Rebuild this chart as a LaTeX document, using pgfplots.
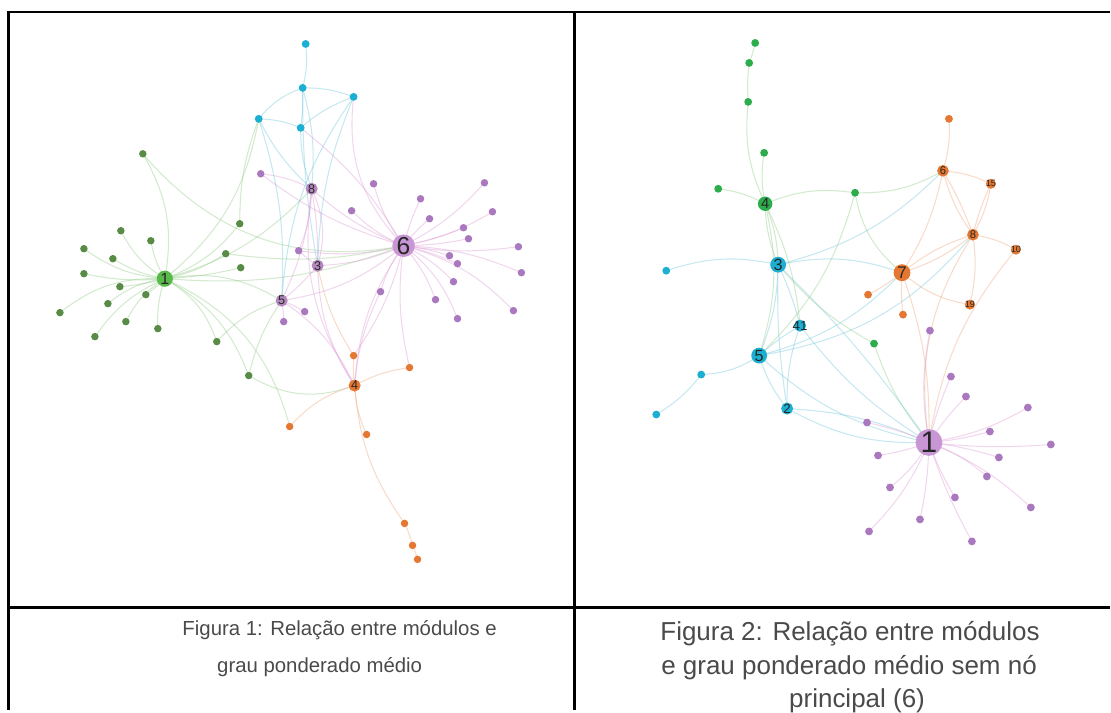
\documentclass[border=0pt]{standalone}
\usepackage{pgfplots}
\pgfplotsset{compat=1.18}
\usepackage{fontspec}
\setmainfont{Liberation Sans}
\definecolor{capgray}{RGB}{74,74,74}
\definecolor{cyN}{RGB}{28,175,210}
\definecolor{grS}{RGB}{88,140,70}
\definecolor{grH}{RGB}{90,185,75}
\definecolor{grT}{RGB}{45,172,75}
\definecolor{puS}{RGB}{170,120,190}
\definecolor{puH}{RGB}{200,150,212}
\definecolor{orN}{RGB}{228,120,50}
\definecolor{eGc}{RGB}{150,205,140}
\definecolor{ePc}{RGB}{222,160,215}
\definecolor{eCc}{RGB}{120,200,220}
\definecolor{eOc}{RGB}{238,170,130}
\tikzset{
  eG/.style={draw=eGc,line width=0.3pt,opacity=0.42},
  eP/.style={draw=ePc,line width=0.3pt,opacity=0.42},
  eC/.style={draw=eCc,line width=0.3pt,opacity=0.42},
  eO/.style={draw=eOc,line width=0.3pt,opacity=0.42},
}
\newcommand{\E}[4]{\draw[#1] (axis cs:#3) to[bend left=#2] (axis cs:#4);}
\begin{document}
\begin{tikzpicture}
\begin{axis}[hide axis, scale only axis, width=11.11cm, height=7.11cm,
  xmin=0, xmax=1111, ymin=0, ymax=711, y dir=reverse, clip=false,
  every node near coord/.style={anchor=center, text=black!85}]
\path (axis cs:0,0) rectangle (axis cs:1111,711);
% ---------------- Panel 1 edges ----------------
\E{eG}{15}{165,279}{121,231}
\E{eG}{10}{165,279}{151,241}
\E{eG}{15}{165,279}{84,249}
\E{eG}{10}{165,279}{113,259}
\E{eG}{8}{165,279}{84,274}
\E{eG}{5}{165,279}{120,287}
\E{eG}{5}{165,279}{146,295}
\E{eG}{-20}{165,279}{60,313}
\E{eG}{-15}{165,279}{108,304}
\E{eG}{-15}{165,279}{126,322}
\E{eG}{-10}{165,279}{158,329}
\E{eG}{-15}{165,279}{95,337}
\E{eG}{-20}{165,279}{143,154}
\E{eG}{-15}{165,279}{240,224}
\E{eG}{-10}{165,279}{226,254}
\E{eG}{-5}{165,279}{241,268}
\E{eG}{20}{165,279}{217,342}
\E{eG}{20}{165,279}{249,376}
\E{eG}{25}{165,279}{290,427}
\E{eG}{20}{165,279}{282,301}
\E{eG}{-12}{165,279}{404,246}
\E{eG}{-15}{165,279}{312,189}
\E{eG}{-20}{165,279}{259,119}
\E{eG}{-30}{143,154}{404,246}
\E{eG}{15}{217,342}{282,301}
\E{eG}{10}{249,376}{282,301}
\E{eG}{-25}{249,376}{355,386}
\E{eG}{10}{240,224}{259,119}
\E{eG}{-10}{226,254}{404,246}
\E{eP}{10}{404,246}{374,184}
\E{eP}{-10}{404,246}{485,183}
\E{eP}{5}{404,246}{421,199}
\E{eP}{10}{404,246}{352,211}
\E{eP}{-10}{404,246}{493,212}
\E{eP}{5}{404,246}{430,219}
\E{eP}{-5}{404,246}{464,228}
\E{eP}{-5}{404,246}{469,239}
\E{eP}{-8}{404,246}{519,247}
\E{eP}{5}{404,246}{450,256}
\E{eP}{5}{404,246}{458,264}
\E{eP}{10}{404,246}{522,273}
\E{eP}{10}{404,246}{454,282}
\E{eP}{-10}{404,246}{381,292}
\E{eP}{10}{404,246}{436,300}
\E{eP}{15}{404,246}{514,311}
\E{eP}{15}{404,246}{458,319}
\E{eP}{10}{404,246}{312,189}
\E{eP}{10}{404,246}{318,266}
\E{eP}{15}{404,246}{282,301}
\E{eP}{-15}{404,246}{355,386}
\E{eP}{10}{404,246}{354,356}
\E{eP}{-10}{404,246}{410,368}
\E{eP}{25}{404,246}{354,97}
\E{eP}{-10}{404,246}{301,128}
\E{eP}{10}{404,246}{261,174}
\E{eP}{10}{404,246}{299,251}
\E{eP}{-10}{312,189}{261,174}
\E{eP}{5}{312,189}{318,266}
\E{eP}{20}{312,189}{318,266}
\E{eP}{10}{312,189}{282,301}
\E{eP}{-20}{312,189}{355,386}
\E{eP}{10}{312,189}{299,251}
\E{eP}{5}{318,266}{282,301}
\E{eP}{-15}{318,266}{355,386}
\E{eP}{5}{318,266}{299,251}
\E{eP}{5}{282,301}{305,312}
\E{eP}{5}{282,301}{284,322}
\E{eP}{15}{282,301}{355,386}
\E{eP}{-10}{381,292}{355,386}
\E{eC}{10}{306,44}{303,88}
\E{eC}{10}{303,88}{354,97}
\E{eC}{-15}{303,88}{259,119}
\E{eC}{5}{303,88}{301,128}
\E{eC}{10}{259,119}{301,128}
\E{eC}{10}{301,128}{354,97}
\E{eC}{-5}{303,88}{318,266}
\E{eC}{10}{303,88}{312,189}
\E{eC}{-10}{301,128}{312,189}
\E{eC}{-10}{354,97}{318,266}
\E{eC}{10}{259,119}{282,301}
\E{eC}{-10}{259,119}{312,189}
\E{eC}{-15}{354,97}{282,301}
\E{eO}{5}{355,386}{354,356}
\E{eO}{10}{355,386}{410,368}
\E{eO}{-15}{355,386}{290,427}
\E{eO}{-10}{355,386}{367,435}
\E{eO}{-15}{355,386}{405,524}
\E{eO}{5}{405,524}{413,546}
\E{eO}{5}{413,546}{418,560}
\E{eO}{10}{354,356}{318,266}
% ---------------- Panel 2 edges ----------------
\E{eG}{5}{756,43}{750,63}
\E{eG}{-5}{750,63}{749,102}
\E{eG}{-15}{749,102}{766,204}
\E{eG}{-10}{765,153}{766,204}
\E{eG}{10}{719,189}{766,204}
\E{eG}{15}{766,204}{856,193}
\E{eG}{-15}{856,193}{944,171}
\E{eG}{-20}{856,193}{903,273}
\E{eG}{15}{856,193}{760,356}
\E{eG}{10}{766,204}{779,265}
\E{eG}{-10}{766,204}{779,265}
\E{eG}{10}{766,204}{801,326}
\E{eG}{15}{766,204}{760,356}
\E{eG}{-10}{875,344}{930,443}
\E{eG}{-10}{779,265}{875,344}
\E{eC}{-15}{779,265}{667,271}
\E{eC}{5}{779,265}{801,326}
\E{eC}{10}{779,265}{760,356}
\E{eC}{-5}{779,265}{788,409}
\E{eC}{15}{779,265}{903,273}
\E{eC}{-15}{779,265}{944,171}
\E{eC}{5}{779,265}{930,443}
\E{eC}{15}{760,356}{702,375}
\E{eC}{10}{702,375}{657,415}
\E{eC}{-10}{760,356}{788,409}
\E{eC}{5}{760,356}{801,326}
\E{eC}{-15}{760,356}{903,273}
\E{eC}{-20}{760,356}{974,235}
\E{eC}{-15}{760,356}{930,443}
\E{eC}{-10}{801,326}{788,409}
\E{eC}{-10}{801,326}{930,443}
\E{eC}{-15}{788,409}{930,443}
\E{eC}{10}{788,409}{930,443}
\E{eO}{5}{903,273}{869,295}
\E{eO}{-5}{903,273}{904,315}
\E{eO}{10}{903,273}{974,235}
\E{eO}{-10}{903,273}{974,235}
\E{eO}{-15}{903,273}{971,305}
\E{eO}{-10}{903,273}{944,171}
\E{eO}{10}{903,273}{930,443}
\E{eO}{10}{944,171}{992,184}
\E{eO}{5}{944,171}{974,235}
\E{eO}{-10}{944,171}{974,235}
\E{eO}{-10}{944,171}{950,119}
\E{eO}{10}{992,184}{974,235}
\E{eO}{-5}{992,184}{974,235}
\E{eO}{10}{974,235}{1017,250}
\E{eO}{10}{974,235}{971,305}
\E{eO}{-15}{1017,250}{930,443}
\E{eO}{-20}{974,235}{930,443}
\E{eP}{10}{930,443}{931,331}
\E{eP}{5}{930,443}{952,377}
\E{eP}{5}{930,443}{967,397}
\E{eP}{-10}{930,443}{1029,408}
\E{eP}{-5}{930,443}{868,423}
\E{eP}{-5}{930,443}{991,432}
\E{eP}{-5}{930,443}{1052,445}
\E{eP}{5}{930,443}{879,456}
\E{eP}{5}{930,443}{1000,458}
\E{eP}{10}{930,443}{988,477}
\E{eP}{10}{930,443}{891,488}
\E{eP}{-5}{930,443}{956,498}
\E{eP}{10}{930,443}{1032,508}
\E{eP}{5}{930,443}{921,520}
\E{eP}{10}{930,443}{870,532}
\E{eP}{-5}{930,443}{973,542}
% ---------------- Panel 1 nodes ----------------
\addplot[only marks, mark=*, mark size=0.9pt, color=cyN] coordinates {
 (306,44) (303,88) (354,97) (259,119) (301,128)};
\addplot[only marks, mark=*, mark size=0.85pt, color=grS] coordinates {
 (143,154) (240,224) (226,254) (241,268) (121,231) (151,241) (84,249) (113,259) (84,274)
 (120,287) (146,295) (60,313) (108,304) (126,322) (158,329) (95,337) (217,342) (249,376)};
\addplot[only marks, mark=*, mark size=0.85pt, color=puS] coordinates {
 (261,174) (374,184) (485,183) (421,199) (352,211) (493,212) (430,219) (464,228) (469,239)
 (519,247) (450,256) (458,264) (522,273) (454,282) (381,292) (436,300) (299,251) (305,312)
 (284,322) (514,311) (458,319)};
\addplot[only marks, mark=*, mark size=0.85pt, color=orN] coordinates {
 (354,356) (410,368) (290,427) (367,435) (405,524) (413,546) (418,560)};
\addplot[only marks, mark=*, mark size=3.0pt, color=puH,
  nodes near coords, point meta=explicit symbolic,
  nodes near coords style={font=\fontsize{7}{7}\selectfont}] coordinates {(404,246) [6]};
\addplot[only marks, mark=*, mark size=2.1pt, color=grH,
  nodes near coords, point meta=explicit symbolic,
  nodes near coords style={font=\fontsize{4.6}{5}\selectfont}] coordinates {(165,279) [1]};
\addplot[only marks, mark=*, mark size=1.5pt, color=puH!90!black,
  nodes near coords, point meta=explicit symbolic,
  nodes near coords style={font=\fontsize{3.6}{4}\selectfont}] coordinates {(312,189) [8] (318,266) [3] (282,301) [5]};
\addplot[only marks, mark=*, mark size=1.5pt, color=orN,
  nodes near coords, point meta=explicit symbolic,
  nodes near coords style={font=\fontsize{3.6}{4}\selectfont}] coordinates {(355,386) [4]};
% ---------------- Panel 2 nodes ----------------
\addplot[only marks, mark=*, mark size=0.9pt, color=grT] coordinates {
 (756,43) (750,63) (749,102) (765,153) (719,189) (856,193) (875,344)};
\addplot[only marks, mark=*, mark size=0.9pt, color=orN] coordinates {
 (950,119) (869,295) (904,315)};
\addplot[only marks, mark=*, mark size=0.9pt, color=cyN] coordinates {
 (667,271) (702,375) (657,415)};
\addplot[only marks, mark=*, mark size=0.9pt, color=puS] coordinates {
 (931,331) (952,377) (967,397) (1029,408) (868,423) (991,432) (1052,445) (879,456) (1000,458)
 (988,477) (891,488) (956,498) (1032,508) (921,520) (870,532) (973,542)};
\addplot[only marks, mark=*, mark size=3.6pt, color=puH,
  nodes near coords, point meta=explicit symbolic,
  nodes near coords style={font=\fontsize{8.5}{9}\selectfont}] coordinates {(930,443) [1]};
\addplot[only marks, mark=*, mark size=2.2pt, color=orN,
  nodes near coords, point meta=explicit symbolic,
  nodes near coords style={font=\fontsize{4.8}{5}\selectfont}] coordinates {(903,273) [7]};
\addplot[only marks, mark=*, mark size=1.45pt, color=orN,
  nodes near coords, point meta=explicit symbolic,
  nodes near coords style={font=\fontsize{3.2}{4}\selectfont}] coordinates {(944,171) [6] (974,235) [8]};
\addplot[only marks, mark=*, mark size=1.2pt, color=orN,
  nodes near coords, point meta=explicit symbolic,
  nodes near coords style={font=\fontsize{2.6}{3}\selectfont}] coordinates {(992,184) [15] (1017,250) [10] (971,305) [19]};
\addplot[only marks, mark=*, mark size=2.05pt, color=cyN,
  nodes near coords, point meta=explicit symbolic,
  nodes near coords style={font=\fontsize{4.6}{5}\selectfont}] coordinates {(779,265) [3] (760,356) [5]};
\addplot[only marks, mark=*, mark size=1.5pt, color=cyN,
  nodes near coords, point meta=explicit symbolic,
  nodes near coords style={font=\fontsize{3.8}{4}\selectfont}] coordinates {(788,409) [2] (801,326) [41]};
\addplot[only marks, mark=*, mark size=1.85pt, color=grT,
  nodes near coords, point meta=explicit symbolic,
  nodes near coords style={font=\fontsize{4.2}{5}\selectfont}] coordinates {(766,204) [4]};
% ---------------- table borders ----------------
\addplot[black, line width=0.7pt] coordinates {(8.3,711) (8.3,12.3) (1111,12.3)};
\addplot[black, line width=0.7pt] coordinates {(575,12.3) (575,711)};
\addplot[black, line width=0.7pt] coordinates {(8.3,608) (1111,608)};
% ---------------- captions ----------------
\node[anchor=base, text=capgray, font=\fontsize{5.8}{6}\selectfont, inner sep=0pt] at (axis cs:340,636) {Figura 1: Relação entre módulos e};
\node[anchor=base, text=capgray, font=\fontsize{5.8}{6}\selectfont, inner sep=0pt] at (axis cs:320,673) {grau ponderado médio};
\node[anchor=base, text=capgray, font=\fontsize{7.4}{8}\selectfont, inner sep=0pt] at (axis cs:851,641) {Figura 2: Relação entre módulos};
\node[anchor=base, text=capgray, font=\fontsize{7.4}{8}\selectfont, inner sep=0pt] at (axis cs:850,675) {e grau ponderado médio sem nó};
\node[anchor=base, text=capgray, font=\fontsize{7.4}{8}\selectfont, inner sep=0pt] at (axis cs:858,708) {principal (6)};
\end{axis}
\end{tikzpicture}
\end{document}
